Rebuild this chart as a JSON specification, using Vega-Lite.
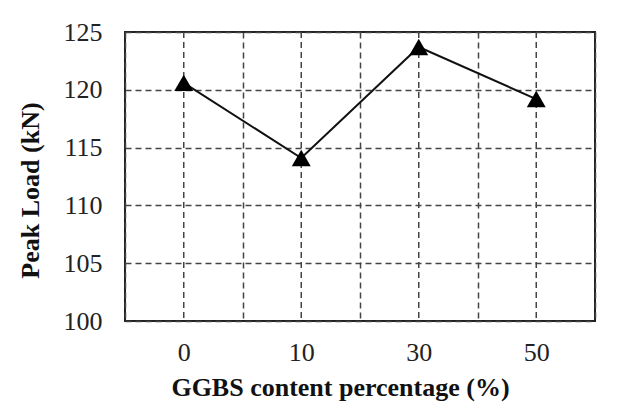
{
  "$schema": "https://vega.github.io/schema/vega-lite/v6.json",
  "width": 470,
  "height": 289,
  "autosize": {"type": "none"},
  "padding": {"left": 125, "top": 32, "right": 30, "bottom": 95},
  "background": "white",
  "data": {
    "values": [
      {"ggbs": "0", "peak": 120.6},
      {"ggbs": "10", "peak": 114.1},
      {"ggbs": "30", "peak": 123.7},
      {"ggbs": "50", "peak": 119.2}
    ]
  },
  "encoding": {
    "x": {
      "field": "ggbs",
      "type": "ordinal",
      "sort": null,
      "scale": {"type": "band", "paddingInner": 0, "paddingOuter": 0},
      "axis": {
        "title": "GGBS content percentage (%)",
        "labelAngle": 0,
        "tickBand": "extent",
        "grid": true,
        "ticks": false,
        "domain": false,
        "labelPadding": 18,
        "titlePadding": 9,
        "titleX": 215,
        "titleFontSize": 26
      }
    },
    "y": {
      "field": "peak",
      "type": "quantitative",
      "scale": {"domain": [100, 125], "nice": false},
      "axis": {
        "title": "Peak Load (kN)",
        "values": [100, 105, 110, 115, 120, 125],
        "grid": true,
        "ticks": false,
        "domain": false,
        "labelPadding": 23,
        "titlePadding": 20,
        "titleY": 158,
        "titleFontSize": 26
      }
    }
  },
  "layer": [
    {
      "mark": {"type": "rule", "color": "#444", "strokeWidth": 1.5, "strokeDash": [6, 4]},
      "encoding": {"y": null}
    },
    {
      "mark": {"type": "line", "color": "#111", "strokeWidth": 2}
    },
    {
      "mark": {"type": "point", "shape": "triangle-up", "filled": true, "color": "#000", "size": 360, "opacity": 1}
    }
  ],
  "config": {
    "font": "Liberation Serif",
    "view": {"stroke": "#222", "strokeWidth": 2},
    "axis": {
      "labelFont": "Liberation Serif",
      "labelFontSize": 26,
      "labelColor": "#222",
      "titleFont": "Liberation Serif",
      "titleFontWeight": "bold",
      "titleColor": "#111",
      "gridColor": "#444",
      "gridWidth": 1.5,
      "gridDash": [6, 4],
      "gridOpacity": 1
    }
  }
}
